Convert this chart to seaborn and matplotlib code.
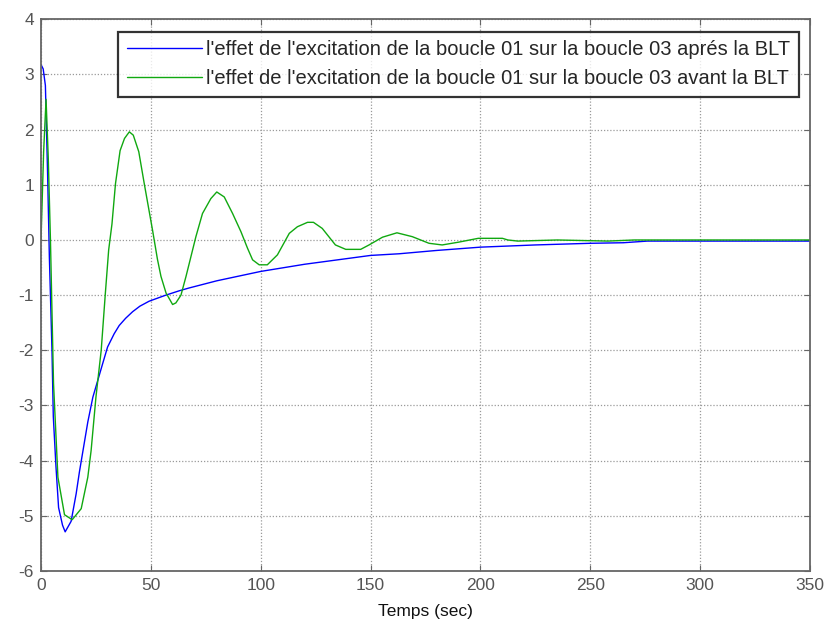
import numpy as np
import pandas as pd
import matplotlib
matplotlib.use("Agg")
import matplotlib.pyplot as plt
import seaborn as sns

# Data
t_apres = [0, 1, 2, 3, 3.8, 5, 5.6, 6.8, 8, 9.8, 11, 13.7, 16, 17.5, 21.3, 23.6, 25.8,
           28, 30.3, 33.3, 35.6, 38.5, 41.7, 45, 49.2, 56.8, 63, 67.4, 80, 100, 120, 150,
           163, 180, 200, 225, 250, 265, 276, 300, 350]
y_apres = [3.18, 3.1, 2.8, 1.2, -0.3, -2.0, -3.2, -4.1, -4.85, -5.17, -5.29, -5.1, -4.6,
           -4.2, -3.3, -2.85, -2.55, -2.25, -1.94, -1.7, -1.55, -1.42, -1.3, -1.2, -1.11,
           -1.0, -0.92, -0.87, -0.74, -0.57, -0.44, -0.28, -0.25, -0.19, -0.13, -0.09,
           -0.06, -0.05, -0.02, -0.02, -0.02]

t_avant = [0, 1.2, 2.3, 3.3, 4.3, 5.7, 7.7, 10.7, 14.2, 18.3, 21.3, 22.8, 25, 27.4, 29.3,
           30.8, 32.3, 33.9, 36, 38, 40.2, 42, 44.5, 47, 50.8, 53, 54.6, 56.9, 59.9, 61.4,
           63.7, 66, 70.5, 73.5, 77.3, 80, 83.4, 87.2, 91, 94, 96.3, 99.3, 103, 107.6,
           113, 116.7, 121.3, 124, 128, 134, 138.7, 145.5, 149.3, 155.4, 162, 169, 176.6,
           182.6, 190, 199, 210, 212.5, 217, 235, 258, 270, 280, 350]
y_avant = [0.0, 1.6, 2.55, 1.5, 0.0, -2.6, -4.3, -4.98, -5.07, -4.87, -4.3, -3.82, -2.85,
           -2.0, -0.96, -0.18, 0.29, 1.02, 1.62, 1.84, 1.96, 1.9, 1.6, 1.02, 0.17, -0.35,
           -0.66, -0.96, -1.17, -1.14, -1.0, -0.66, 0.06, 0.48, 0.75, 0.87, 0.78, 0.48,
           0.15, -0.15, -0.36, -0.45, -0.45, -0.27, 0.12, 0.24, 0.32, 0.32, 0.21, -0.09,
           -0.17, -0.17, -0.09, 0.05, 0.13, 0.06, -0.06, -0.09, -0.04, 0.03, 0.03, 0.0,
           -0.02, 0.0, -0.02, 0.0, 0.0, 0.0]

label_apres = "l'effet de l'excitation de la boucle 01 sur la boucle 03 aprés la BLT"
label_avant = "l'effet de l'excitation de la boucle 01 sur la boucle 03 avant la BLT"
xticks = [0, 50, 100, 150, 200, 250, 300, 350]
yticks = [-6, -5, -4, -3, -2, -1, 0, 1, 2, 3, 4]

sns.set_style("white")
plt.rcParams['font.family'] = ['Liberation Sans', 'DejaVu Sans']
plt.rcParams['axes.unicode_minus'] = False

df = pd.concat([
    pd.DataFrame({"t": t_apres, "y": y_apres, "serie": label_apres}),
    pd.DataFrame({"t": t_avant, "y": y_avant, "serie": label_avant}),
])

fig = plt.figure(figsize=(8.28, 6.32), dpi=100)
ax = fig.add_axes([41/828, 1-571/632, (810-41)/828, (571-19.3)/632])

sns.lineplot(data=df, x="t", y="y", hue="serie", sort=False, estimator=None,
             palette={label_apres: "#0000ff", label_avant: "#10a810"},
             linewidth=1.0, ax=ax)

ax.set_xlim(0, 350)
ax.set_ylim(-6, 4)
ax.set_xticks(xticks)
ax.set_yticks(yticks)
ax.grid(True, linestyle=(0, (1, 1.5)), color="#9a9a9a", linewidth=0.9)
for s in ax.spines.values():
    s.set_color("#666666")
    s.set_linewidth(1.3)
ax.tick_params(direction="in", length=4, color="#666666", labelcolor="#555555",
               labelsize=12.5, pad=5, top=True, right=True, bottom=True, left=True)
ax.set_xlabel("Temps (sec)", fontsize=12.5, color="#111111", labelpad=8)
ax.set_ylabel("")

leg = ax.legend(loc="upper right", bbox_to_anchor=(0.9857, 0.9775), fontsize=14.5,
                frameon=True, fancybox=False, handlelength=3.75, handletextpad=0.2,
                borderpad=0.42, labelspacing=0.5, borderaxespad=0.0)
leg.get_frame().set_edgecolor("black")
leg.get_frame().set_linewidth(1.6)
for line in leg.get_lines():
    line.set_linewidth(1.0)

fig.savefig("out.png", dpi=100)
